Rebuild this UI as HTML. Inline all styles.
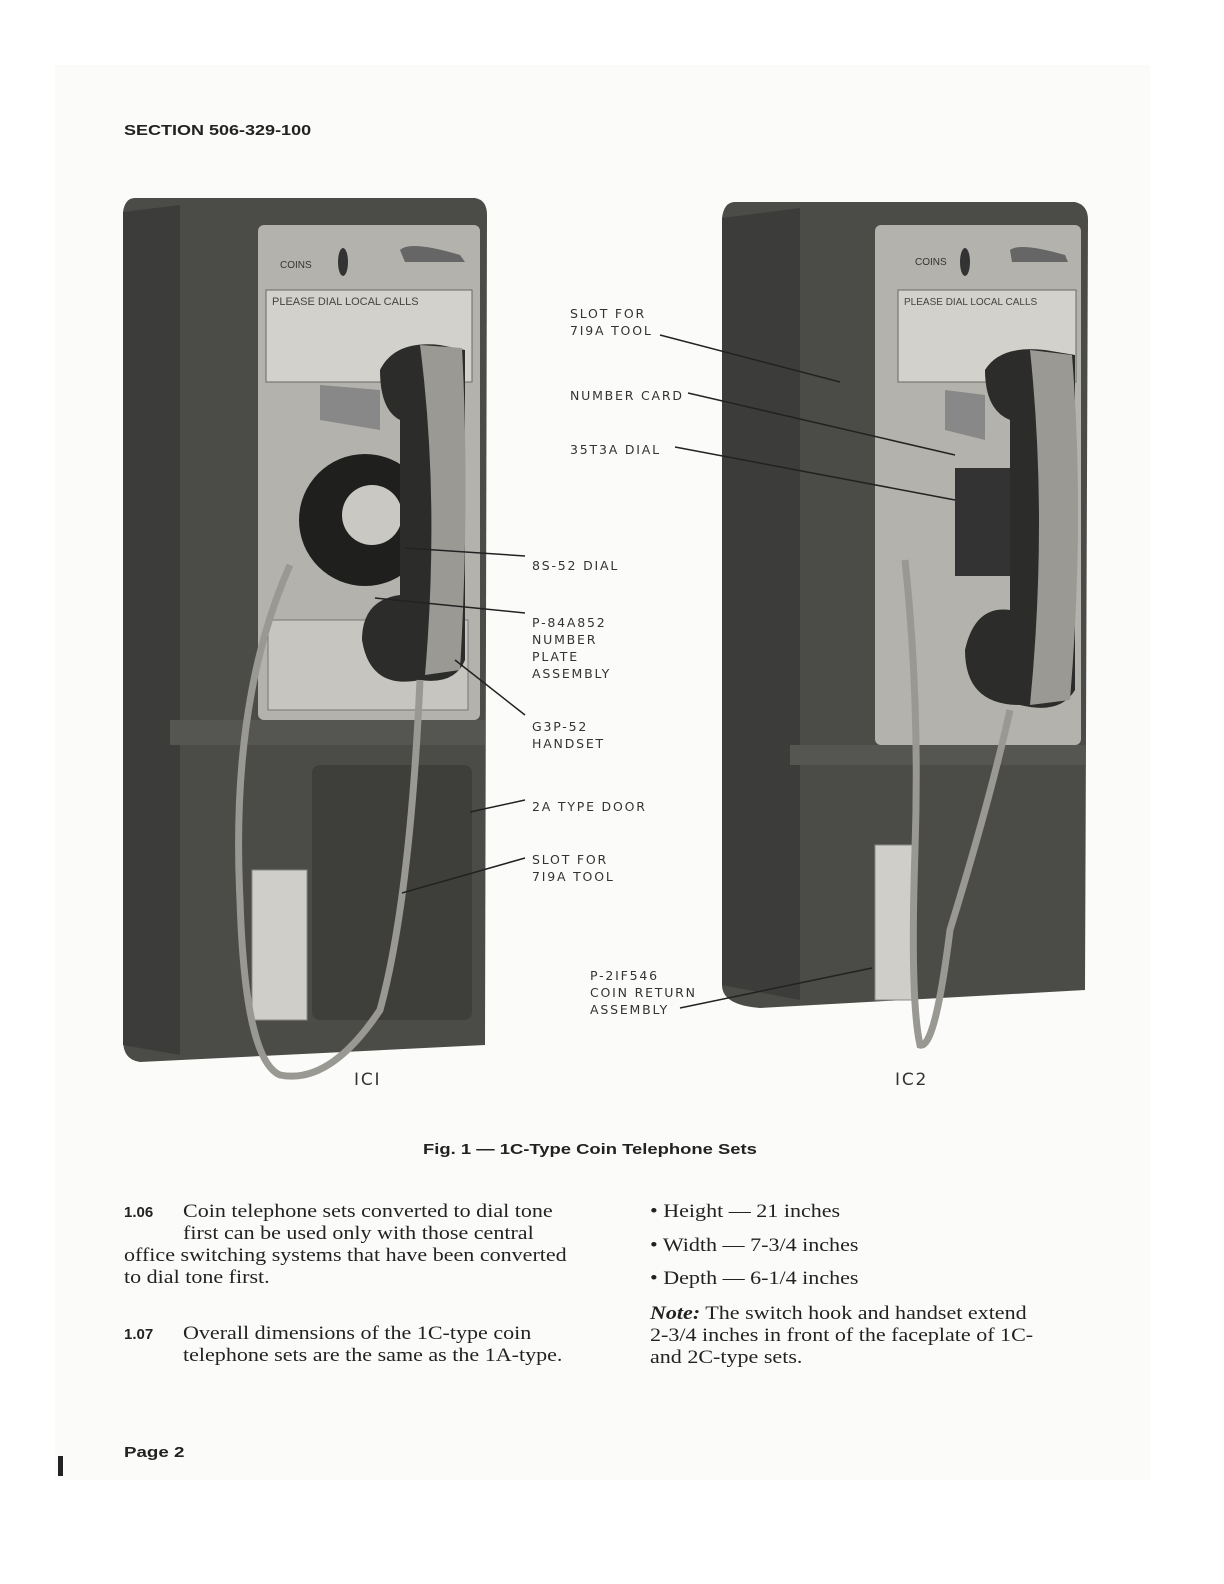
<!DOCTYPE html>
<html><head><meta charset="utf-8"><style>
body{margin:0;background:#fff;}
.pg{position:relative;width:1224px;height:1584px;overflow:hidden;background:#fff;font-family:"Liberation Serif",serif;color:#222;}
.t{position:absolute;white-space:nowrap;transform-origin:0 0;}
.h{font-family:"Liberation Sans",sans-serif;font-weight:bold;font-size:15px;}
.b{font-size:19px;line-height:22px;transform:scaleX(1.16);}
.lb{font-family:"DejaVu Sans",sans-serif;font-size:12.5px;letter-spacing:1.8px;color:#333;line-height:17px;}
</style></head><body><div class="pg">
<div style="position:absolute;left:55px;top:65px;width:1095px;height:1415px;background:#fbfbf9;"></div>
<div class="t h" style="left:124px;top:122px;transform:scaleX(1.2);">SECTION 506-329-100</div>
<svg style="position:absolute;left:0;top:0" width="1224" height="1584">
<path d="M135 198 L475 198 Q487 200 487 215 L485 1045 L140 1062 Q123 1060 123 1040 L123 212 Q125 198 135 198Z" fill="#4b4b48"/>
<path d="M123 212 L180 205 L180 1055 L123 1045Z" fill="#3c3c3a"/>
<rect x="258" y="225" width="222" height="495" rx="6" fill="#b3b2ac"/>
<rect x="266" y="290" width="206" height="92" fill="#d2d1cb" stroke="#6a6a66"/>
<text x="272" y="305" font-family="Liberation Sans" font-size="11" fill="#444">PLEASE DIAL LOCAL CALLS</text>
<text x="280" y="268" font-family="Liberation Sans" font-size="10" fill="#333">COINS</text>
<ellipse cx="343" cy="262" rx="5" ry="14" fill="#333"/>
<path d="M400 250 Q410 240 460 255 L465 262 L405 262Z" fill="#666"/>
<rect x="268" y="620" width="200" height="90" fill="#c6c5bf" stroke="#777"/>
<rect x="170" y="720" width="315" height="25" fill="#555552"/>
<rect x="312" y="765" width="160" height="255" rx="8" fill="#3e3e3b"/>
<rect x="252" y="870" width="55" height="150" fill="#cfcec8" stroke="#888"/>
<circle cx="365" cy="520" r="66" fill="#1f1f1e"/>
<circle cx="372" cy="515" r="30" fill="#c9c8c2"/>
<path d="M380 370 Q395 340 440 345 L465 350 L465 660 Q455 685 420 680 Q370 690 362 640 Q362 600 400 595 L400 420 Q380 410 380 370Z" fill="#2c2c2a"/>
<path d="M420 345 L462 348 Q470 500 460 670 L425 675 Q440 500 420 345Z" fill="#9a9994"/>
<path d="M320 385 L380 390 L380 430 L320 420Z" fill="#888"/>
<path d="M290 565 Q230 700 240 900 Q245 1060 280 1075 Q330 1085 380 1010 Q410 900 420 680" fill="none" stroke="#999893" stroke-width="7"/>
<path d="M735 202 L1075 202 Q1088 205 1088 220 L1085 990 L760 1008 Q722 1005 722 985 L722 218 Q724 202 735 202Z" fill="#4b4b48"/>
<path d="M722 218 L800 208 L800 1000 L722 985Z" fill="#3c3c3a"/>
<rect x="875" y="225" width="206" height="520" rx="6" fill="#b3b2ac"/>
<rect x="898" y="290" width="178" height="92" fill="#d2d1cb" stroke="#6a6a66"/>
<text x="904" y="305" font-family="Liberation Sans" font-size="10" fill="#444">PLEASE DIAL LOCAL CALLS</text>
<text x="915" y="265" font-family="Liberation Sans" font-size="10" fill="#333">COINS</text>
<ellipse cx="965" cy="262" rx="5" ry="14" fill="#333"/>
<path d="M1010 250 Q1020 242 1065 255 L1068 262 L1012 262Z" fill="#666"/>
<rect x="955" y="468" width="65" height="108" fill="#333"/>
<path d="M945 390 L985 395 L985 440 L945 430Z" fill="#888"/>
<path d="M985 370 Q1000 345 1045 350 L1075 355 L1075 690 Q1060 715 1020 705 Q965 705 965 650 Q975 605 1010 610 L1010 420 Q985 410 985 370Z" fill="#2c2c2a"/>
<path d="M1030 350 L1072 355 Q1085 520 1070 700 L1030 705 Q1048 520 1030 350Z" fill="#9a9994"/>
<rect x="790" y="745" width="295" height="20" fill="#555552"/>
<rect x="875" y="845" width="38" height="155" fill="#cfcec8" stroke="#888"/>
<path d="M905 560 Q920 700 915 850 Q910 1000 920 1045 Q935 1050 950 930 Q990 800 1010 710" fill="none" stroke="#999893" stroke-width="7"/>
<g stroke="#222" stroke-width="1.5" fill="none">
<line x1="660" y1="335" x2="840" y2="382"/>
<line x1="688" y1="393" x2="955" y2="455"/>
<line x1="675" y1="447" x2="955" y2="500"/>
<line x1="525" y1="556" x2="405" y2="548"/>
<line x1="525" y1="613" x2="375" y2="598"/>
<line x1="525" y1="715" x2="455" y2="660"/>
<line x1="525" y1="800" x2="470" y2="812"/>
<line x1="525" y1="858" x2="402" y2="893"/>
<line x1="680" y1="1008" x2="872" y2="968"/>
</g>
</svg>
<div class="t lb" style="left:570px;top:305px;">SLOT FOR<br>7I9A TOOL</div>
<div class="t lb" style="left:570px;top:387px;">NUMBER CARD</div>
<div class="t lb" style="left:570px;top:441px;">35T3A DIAL</div>
<div class="t lb" style="left:532px;top:557px;">8S-52 DIAL</div>
<div class="t lb" style="left:532px;top:614px;">P-84A852<br>NUMBER<br>PLATE<br>ASSEMBLY</div>
<div class="t lb" style="left:532px;top:718px;">G3P-52<br>HANDSET</div>
<div class="t lb" style="left:532px;top:798px;">2A TYPE DOOR</div>
<div class="t lb" style="left:532px;top:851px;">SLOT FOR<br>7I9A TOOL</div>
<div class="t lb" style="left:590px;top:967px;">P-2IF546<br>COIN RETURN<br>ASSEMBLY</div>
<div class="t lb" style="left:354px;top:1072px;font-size:17px;">ICI</div>
<div class="t lb" style="left:895px;top:1072px;font-size:17px;">IC2</div>
<div class="t h" style="left:423px;top:1142px;font-size:14.5px;transform:scaleX(1.27);">Fig. 1 — 1C-Type Coin Telephone Sets</div>
<div class="t" style="left:124px;top:1204px;font-family:'Liberation Sans';font-weight:bold;font-size:15px;">1.06</div>
<div class="t b" style="left:183px;top:1201px;">Coin telephone sets converted to dial tone</div>
<div class="t b" style="left:183px;top:1223px;">first can be used only with those central</div>
<div class="t b" style="left:124px;top:1245px;">office switching systems that have been converted</div>
<div class="t b" style="left:124px;top:1267px;">to dial tone first.</div>
<div class="t" style="left:124px;top:1326px;font-family:'Liberation Sans';font-weight:bold;font-size:15px;">1.07</div>
<div class="t b" style="left:183px;top:1323px;">Overall dimensions of the 1C-type coin</div>
<div class="t b" style="left:183px;top:1345px;">telephone sets are the same as the 1A-type.</div>
<div class="t b" style="left:650px;top:1201px;">• Height — 21 inches</div>
<div class="t b" style="left:650px;top:1235px;">• Width — 7-3/4 inches</div>
<div class="t b" style="left:650px;top:1268px;">• Depth — 6-1/4 inches</div>
<div class="t b" style="left:650px;top:1303px;"><i><b>Note:</b></i> The switch hook and handset extend</div>
<div class="t b" style="left:650px;top:1325px;">2-3/4 inches in front of the faceplate of 1C-</div>
<div class="t b" style="left:650px;top:1347px;">and 2C-type sets.</div>
<div class="t h" style="left:124px;top:1444px;transform:scaleX(1.25);">Page 2</div>
<div style="position:absolute;left:58px;top:1456px;width:5px;height:20px;background:#222;"></div>
</div></body></html>
